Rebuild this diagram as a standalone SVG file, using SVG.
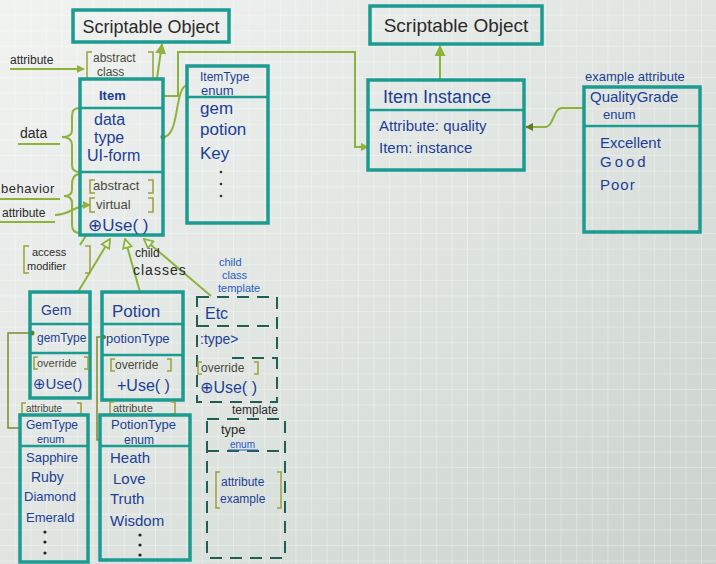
<svg xmlns="http://www.w3.org/2000/svg" width="716" height="564" viewBox="0 0 716 564">
<defs>
<linearGradient id="paper" x1="0" y1="0" x2="1" y2="1">
<stop offset="0" stop-color="#f1f3f1"/>
<stop offset="0.5" stop-color="#e0e5e2"/>
<stop offset="1" stop-color="#cad2cd"/>
</linearGradient>
<pattern id="grid" width="15.6" height="15.6" patternUnits="userSpaceOnUse">
<path d="M15.6,0 V15.6 M0,15.6 H15.6" fill="none" stroke="#ffffff" stroke-opacity="0.6" stroke-width="1"/>
</pattern>
<marker id="fill" viewBox="0 0 10 10" refX="9" refY="5" markerWidth="8" markerHeight="8" orient="auto-start-reverse" markerUnits="userSpaceOnUse">
<path d="M0,0 L10,5 L0,10 Z" fill="#8db33a"/>
</marker>
<marker id="fillbig" viewBox="0 0 10 10" refX="9" refY="5" markerWidth="11" markerHeight="11" orient="auto" markerUnits="userSpaceOnUse">
<path d="M0,0 L10,5 L0,10 Z" fill="#8db33a"/>
</marker>
<marker id="hollow" viewBox="0 0 10 10" refX="9" refY="5" markerWidth="11" markerHeight="11" orient="auto" markerUnits="userSpaceOnUse">
<path d="M1,1 L9,5 L1,9 Z" fill="#eef0ee" stroke="#8db33a" stroke-width="1.6"/>
</marker>
<marker id="dark" viewBox="0 0 10 10" refX="9" refY="5" markerWidth="8" markerHeight="8" orient="auto" markerUnits="userSpaceOnUse">
<path d="M0,0 L10,5 L0,10 Z" fill="#5f7a22"/>
</marker>
</defs>
<style>
.box{fill:none;stroke:#1c9b91;stroke-width:3.5}
.div{stroke:#1c9b91;stroke-width:2.5}
.dash{fill:none;stroke:#215f52;stroke-width:2;stroke-dasharray:12 8}
.conn{fill:none;stroke:#8db33a;stroke-width:2}
.olive{fill:none;stroke:#7d8a2b;stroke-width:1.5}
.br{fill:none;stroke:#9aa03a;stroke-width:1.5}
.t{font-family:"Liberation Sans","DejaVu Sans",sans-serif;fill:#1c3f94}
.k{font-family:"Liberation Sans","DejaVu Sans",sans-serif;fill:#2a2a2a}
.b{font-family:"Liberation Sans","DejaVu Sans",sans-serif;fill:#2a5bbf}
.g{font-family:"Liberation Sans","DejaVu Sans",sans-serif;fill:#4a4a3a}
.u{stroke:#8db33a;stroke-width:2}
</style>
<rect width="716" height="564" fill="url(#paper)"/>
<rect width="716" height="564" fill="url(#grid)"/>

<g id="connectors">
<path class="conn" d="M157,78 L162,44" marker-end="url(#fillbig)"/>
<path class="conn" d="M440,80 L440,46" marker-end="url(#fillbig)"/>
<path class="conn" d="M10,69 L84,69" marker-end="url(#fill)"/>
<path class="conn" d="M163,96 L178,96 L178,52 L355,52 L355,147 L368,147" marker-end="url(#fill)"/>
<path class="conn" d="M163,137 C180,137 174,88 187,85"/>
<circle cx="163" cy="137" r="2.5" fill="#6f8a2a"/>
<path class="conn" d="M585,108 L562,108 C553,108 554,127 545,127 L526,127" marker-end="url(#dark)"/>
<path class="conn" d="M55,215 C70,215 75,205 90,205" marker-end="url(#fill)"/>
<path class="conn" d="M80,245 L87,234"/>
<path class="conn" d="M78,292 L110,239" marker-end="url(#hollow)"/>
<path class="conn" d="M140,292 L125,239" marker-end="url(#hollow)"/>
<path class="conn" d="M211,296 L144,239" marker-end="url(#hollow)"/>
<path class="olive" d="M32,333 L8,333 L8,428 L20,428"/>
<circle cx="32" cy="333" r="2.5" fill="#6f7a2a"/>
<path class="olive" d="M104,337 L97,337 L97,440 L100,440"/>
<circle cx="104" cy="337" r="2" fill="#6f7a2a"/>
<path class="conn" d="M80,108 C72,108 72,112 72,120 L72,130 C72,135 68,137 62,137 C68,137 72,139 72,145 L72,165 C72,170 75,172 80,172"/>
<path class="conn" d="M80,174 C74,174 72,178 72,185 L72,190 C72,194 69,196 64,196 C69,196 72,198 72,203 L72,225 C72,230 75,233 80,233"/>
</g>

<g id="scriptable-left">
<rect class="box" x="73" y="10" width="156" height="32"/>
<text class="k" x="151" y="33" font-size="18" text-anchor="middle">Scriptable Object</text>
</g>

<g id="label-attribute-top">
<text class="k" x="10" y="64" font-size="12">attribute</text>
</g>

<g id="abstract-class">
<path class="br" d="M92,52 L87,52 L87,79 L92,79 M148,52 L153,52 L153,79 L148,79"/>
<text class="g" x="93" y="62" font-size="12">abstract</text>
<text class="g" x="97" y="76" font-size="12">class</text>
</g>

<g id="item">
<rect class="box" x="80" y="79" width="83" height="156"/>
<line class="div" x1="80" y1="108" x2="163" y2="108"/>
<line class="div" x1="80" y1="172" x2="163" y2="172"/>
<text class="t" x="99" y="100" font-size="13" font-weight="bold">Item</text>
<text class="t" x="94" y="125" font-size="16">data</text>
<text class="t" x="94" y="143" font-size="16">type</text>
<text class="t" x="87" y="161" font-size="16">UI-form</text>
<path class="br" d="M95,180 L90,180 L90,193 L95,193 M148,180 L153,180 L153,193 L148,193"/>
<text class="g" x="93" y="190" font-size="13">abstract</text>
<path class="br" d="M95,198 L90,198 L90,212 L95,212 M148,198 L153,198 L153,212 L148,212"/>
<text class="g" x="96" y="209" font-size="13">virtual</text>
<text class="t" x="88" y="231" font-size="17">⊕Use( )</text>
</g>

<g id="label-data">
<text class="k" x="20" y="138" font-size="14">data</text>
<line class="u" x1="18" y1="144" x2="60" y2="144"/>
</g>
<g id="label-behavior">
<text class="k" x="1" y="193" font-size="13" letter-spacing="0.5">behavior</text>
<line class="u" x1="0" y1="199" x2="60" y2="199"/>
<text class="k" x="2" y="217" font-size="12">attribute</text>
<line class="u" x1="0" y1="222" x2="55" y2="222"/>
</g>

<g id="itemtype">
<rect class="box" x="187" y="66" width="81" height="157"/>
<line class="div" x1="187" y1="97" x2="268" y2="97"/>
<text class="t" x="200" y="81" font-size="12">ItemType</text>
<text class="t" x="201" y="95" font-size="13">enum</text>
<text class="t" x="200" y="114" font-size="17">gem</text>
<text class="t" x="200" y="135" font-size="17">potion</text>
<text class="t" x="200" y="159" font-size="17">Key</text>
<circle cx="221" cy="172" r="1.3" fill="#333"/>
<circle cx="221" cy="184" r="1.3" fill="#333"/>
<circle cx="221" cy="196" r="1.3" fill="#333"/>
</g>

<g id="scriptable-right">
<rect class="box" x="370" y="6" width="172" height="38"/>
<text class="k" x="456" y="32" font-size="19" text-anchor="middle">Scriptable Object</text>
</g>

<g id="item-instance">
<rect class="box" x="368" y="80" width="156" height="90"/>
<line class="div" x1="368" y1="110" x2="524" y2="110"/>
<text class="t" x="383" y="103" font-size="18">Item Instance</text>
<text class="t" x="379" y="131" font-size="15">Attribute: quality</text>
<text class="t" x="379" y="153" font-size="15">Item: instance</text>
</g>

<g id="quality-grade">
<text class="t" x="585" y="81" font-size="13">example attribute</text>
<rect class="box" x="584" y="87" width="116" height="145"/>
<line class="div" x1="584" y1="126" x2="700" y2="126"/>
<text class="t" x="590" y="102" font-size="15">QualityGrade</text>
<text class="t" x="603" y="119" font-size="13">enum</text>
<text class="t" x="600" y="148" font-size="15">Excellent</text>
<text class="t" x="600" y="167" font-size="15" letter-spacing="3">Good</text>
<text class="t" x="600" y="190" font-size="15" letter-spacing="1">Poor</text>
</g>

<g id="access-modifier">
<path class="br" d="M29,246 L24,246 L24,273 L29,273 M85,246 L90,246 L90,273 L85,273"/>
<text class="k" x="32" y="256" font-size="11">access</text>
<text class="k" x="27" y="270" font-size="11">modifier</text>
</g>

<g id="label-child-classes">
<text class="k" x="135" y="257" font-size="12">child</text>
<text class="k" x="133" y="275" font-size="14" letter-spacing="1">classes</text>
</g>

<g id="label-child-template">
<text class="b" x="219" y="266" font-size="11">child</text>
<text class="b" x="222" y="279" font-size="11">class</text>
<text class="b" x="218" y="292" font-size="11">template</text>
</g>

<g id="gem">
<rect class="box" x="30" y="292" width="60" height="106"/>
<line class="div" x1="30" y1="324" x2="90" y2="324"/>
<line class="div" x1="30" y1="353" x2="90" y2="353"/>
<text class="t" x="41" y="315" font-size="14">Gem</text>
<text class="t" x="37" y="342" font-size="12">gemType</text>
<path class="br" d="M38,357 L34,357 L34,369 L38,369 M84,357 L88,357 L88,369 L84,369"/>
<text class="g" x="37" y="367" font-size="11">override</text>
<text class="t" x="33" y="389" font-size="15">⊕Use()</text>
</g>

<g id="potion">
<rect class="box" x="102" y="292" width="81" height="108"/>
<line class="div" x1="102" y1="324" x2="183" y2="324"/>
<line class="div" x1="102" y1="355" x2="183" y2="355"/>
<text class="t" x="112" y="317" font-size="17">Potion</text>
<text class="t" x="106" y="343" font-size="13">potionType</text>
<path class="br" d="M115,359 L111,359 L111,371 L115,371 M167,359 L171,359 L171,371 L167,371"/>
<text class="g" x="115" y="369" font-size="12">override</text>
<text class="t" x="117" y="391" font-size="16">+Use( )</text>
</g>

<g id="etc">
<rect class="dash" x="197" y="297" width="80" height="105"/>
<line class="dash" x1="197" y1="326" x2="277" y2="326"/>
<line class="dash" x1="232" y1="358" x2="277" y2="358"/>
<text class="t" x="205" y="319" font-size="16">Etc</text>
<text class="t" x="200" y="344" font-size="14">:type&gt;</text>
<path class="br" d="M202,362 L198,362 L198,374 L202,374 M254,362 L258,362 L258,374 L254,374"/>
<text class="g" x="201" y="372" font-size="12">override</text>
<text class="t" x="200" y="393" font-size="16">⊕Use( )</text>
</g>

<g id="gemtype">
<path class="br" d="M26,403 L22,403 L22,414 L26,414 M77,403 L81,403 L81,414 L77,414"/>
<text class="g" x="26" y="412" font-size="10">attribute</text>
<rect class="box" x="20" y="415" width="68" height="147"/>
<line class="div" x1="20" y1="446" x2="88" y2="446"/>
<text class="t" x="26" y="429" font-size="12">GemType</text>
<text class="t" x="37" y="443" font-size="11">enum</text>
<text class="t" x="26" y="462" font-size="13">Sapphire</text>
<text class="t" x="31" y="482" font-size="14">Ruby</text>
<text class="t" x="24" y="501" font-size="13">Diamond</text>
<text class="t" x="26" y="522" font-size="13">Emerald</text>
<circle cx="45" cy="532" r="1.6" fill="#222"/>
<circle cx="45" cy="542" r="1.6" fill="#222"/>
<circle cx="45" cy="553" r="1.6" fill="#222"/>
</g>

<g id="potiontype">
<path class="br" d="M114,402 L110,402 L110,414 L114,414 M171,402 L175,402 L175,414 L171,414"/>
<text class="g" x="113" y="412" font-size="11">attribute</text>
<rect class="box" x="100" y="415" width="90" height="145"/>
<line class="div" x1="100" y1="446" x2="190" y2="446"/>
<text class="t" x="111" y="429" font-size="13">PotionType</text>
<text class="t" x="124" y="444" font-size="12">enum</text>
<text class="t" x="110" y="463" font-size="15">Heath</text>
<text class="t" x="113" y="484" font-size="15">Love</text>
<text class="t" x="110" y="504" font-size="15">Truth</text>
<text class="t" x="110" y="526" font-size="15">Wisdom</text>
<circle cx="140" cy="535" r="1.6" fill="#222"/>
<circle cx="140" cy="545" r="1.6" fill="#222"/>
<circle cx="140" cy="555" r="1.6" fill="#222"/>
</g>

<g id="template">
<text class="k" x="232" y="414" font-size="12">template</text>
<rect class="dash" x="207" y="419" width="78" height="139"/>
<line class="dash" x1="207" y1="451" x2="285" y2="451"/>
<text class="k" x="221" y="434" font-size="13">type</text>
<text class="b" x="230" y="448" font-size="10">enum</text>
<line x1="228" y1="450" x2="258" y2="450" stroke="#2a5bbf" stroke-width="1"/>
<path class="br" d="M220,472 L216,472 L216,508 L220,508 M277,472 L281,472 L281,508 L277,508"/>
<text class="t" x="221" y="486" font-size="12">attribute</text>
<text class="t" x="220" y="503" font-size="12">example</text>
</g>
</svg>
